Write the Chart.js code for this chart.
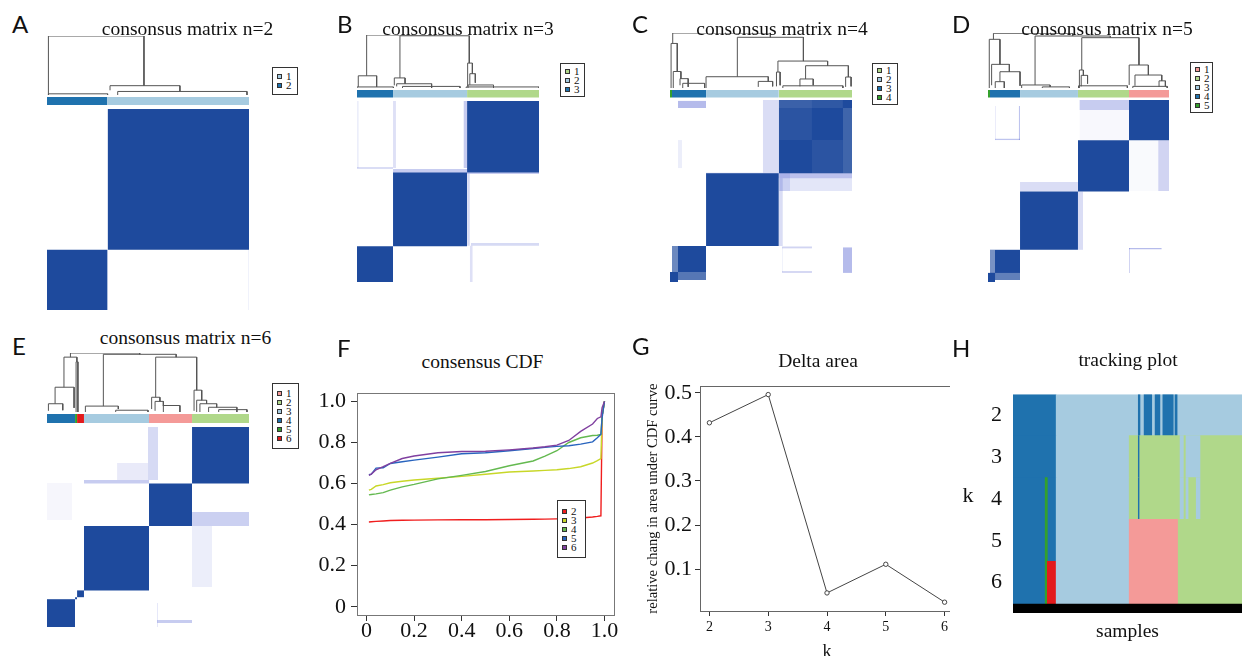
<!DOCTYPE html>
<html><head><meta charset="utf-8">
<script src="https://cdn.jsdelivr.net/npm/chart.js@4/dist/chart.umd.min.js"></script>
<style>
html,body{margin:0;padding:0;background:#fff;}
body{width:1242px;height:656px;position:relative;overflow:hidden;}
canvas{position:absolute;}
.t{position:absolute;white-space:nowrap;color:#111;}
.lg{position:absolute;border:1px solid #333;box-sizing:border-box;background:#fff;}
.lg i{position:absolute;width:5px;height:5px;border:1px solid #333;box-sizing:border-box;}
.lg b{position:absolute;font-weight:normal;font-size:11px;line-height:11px;color:#111;}
</style></head><body>
<script>
// ================= DATA =================
// cluster colours (keys used below)
const palette = {lb:'#a6cbe0', db:'#1f72ae', lg:'#b0d88a', g:'#33a02c', pk:'#f49a98', rd:'#e31a1c'};

// --- A: consensus matrix n=2
const aOrder = [2, 1];
const aSizes = [0.30, 0.70];
const aLegend = ['lb', 'db'];
const aExtra = [[0.995, 1.0, 0, 0.3, 0.08, 'f']];
const aLinks = [[0.007,0,0.48,0.158,1.0],[0.312,0.08,0.658,0.06,0.158],[0.35,0,0.99,0,0.06],[0.007,0,0.30,0,0.02]];

// --- B: consensus matrix n=3
const bOrder = [3, 2, 1];
const bSizes = [0.198, 0.407, 0.395];
const bLegend = ['lg', 'lb', 'db'];
const bExtra = [[0,0.01,0.63,1.0,0.1,'f'],[0.198,0.214,0.63,1.0,0.18,'f'],[0,0.198,0.625,0.635,0.2,'f'],
  [0.198,1.0,0.597,0.625,0.3,'f'],[0.626,1.0,0.2,0.215,0.22,'f'],[0.62,0.636,0,0.2,0.18,'f'],
  [0.585,0.605,0.63,1.0,0.3,'f'],[0.605,0.62,0.2,0.6,0.22,'f']];
const bLinks = [[0.236,0.19,0.617,0.47,0.985],[0.053,0.23,0.4265,0.985,1.0],[0.007,0.02,0.108,0.02,0.23],
  [0.0,0,0.2,0,0.02],[0.205,0.05,0.264,0.08,0.19],[0.218,0.03,0.41,0,0.08],[0.25,0,0.566,0,0.03],
  [0.608,0.03,0.634,0.27,0.47],[0.62,0.06,0.65,0.1,0.27],[0.61,0,0.75,0,0.057],[0.60,0,1.0,0,0.02]];

// --- C: consensus matrix n=4
const cOrder = [4, 3, 2, 1];
const cSizes = [0.011, 0.187, 0.40, 0.402];
const cLegend = ['lg', 'lb', 'db', 'g'];
const cExtra = [[0.044,0.198,0.956,0.995,0.4,'f'],[0.044,0.066,0.626,0.78,0.1,'f'],[0.51,0.60,0.60,1.0,0.2,'f'],
  [0.198,1.0,0.57,0.60,0.25,'f'],[0.6,1.0,0.5,0.6,0.15,'f'],[0.6,0.66,0.5,0.6,0.15,'f'],[0.95,1.0,0.05,0.19,0.4,'f'],
  [0.615,0.78,0.185,0.195,0.25,'f'],[0.615,0.78,0.05,0.06,0.25,'f'],[0.615,0.62,0.055,0.19,0.1,'f'],[0.598,0.62,0.198,0.57,0.2,'f'],
  [0.011,0.044,0.055,0.198,0.35,'w'],[0.044,0.198,0.011,0.055,0.25,'w'],[0,0.044,0,0.055,1,'d'],
  [0.598,0.78,0.78,1.0,0.06,'w'],[0.78,0.95,0.598,0.78,0.06,'w'],[0.95,1.0,0.598,0.956,0.15,'w'],[0.598,0.95,0.956,1.0,0.08,'w']];
const cLinks = [[0.37,0.205,0.733,0.49,0.922],[0.015,0.81,0.5515,0.922,1.0],[0.006,0,0.04,0.30,0.81],[0.018,0,0.06,0.17,0.30],
  [0.055,0.05,0.10,0.02,0.17],[0.07,0,0.19,0,0.085],[0.198,0,0.54,0.12,0.205],[0.485,0.02,0.564,0.03,0.12],
  [0.593,0.29,0.866,0.405,0.49],[0.585,0.03,0.605,0.05,0.29],[0.745,0.164,0.98,0.2,0.405],[0.714,0.03,0.787,0.05,0.164],
  [0.965,0.02,0.995,0.03,0.2],[0.62,0,0.95,0,0.04]];

// --- D: consensus matrix n=5
const dOrder = [5, 4, 3, 2, 1];
const dSizes = [0.011, 0.166, 0.32, 0.282, 0.221];
const dLegend = ['pk', 'lg', 'lb', 'db', 'g'];
const dExtra = [[0.505,0.779,0.945,1.0,0.3,'f'],[0.505,0.779,0.78,0.945,0.04,'f'],[0.94,1.0,0.5,0.779,0.25,'f'],
  [0.779,0.94,0.5,0.779,0.03,'f'],[0.177,0.497,0.497,0.55,0.2,'f'],[0.497,0.525,0.177,0.497,0.2,'f'],
  [0.17,0.177,0.78,0.967,0.35,'f'],[0.039,0.177,0.78,0.787,0.35,'f'],[0.039,0.045,0.78,0.967,0.12,'f'],
  [0.779,0.96,0.18,0.187,0.4,'f'],[0.779,0.785,0.05,0.187,0.25,'f'],
  [0.011,0.039,0.05,0.177,0.4,'w'],[0.039,0.177,0.011,0.05,0.3,'w'],[0,0.039,0,0.05,1,'d']];
const dLinks = [[0.518,0.327,0.834,0.418,0.915],[0.26,0.055,0.676,0.915,0.945],[0.03,0.885,0.468,0.945,0.995],
  [0.007,0,0.066,0.43,0.885],[0.02,0.05,0.118,0.296,0.43],[0.066,0.115,0.177,0.04,0.296],[0.04,0,0.09,0,0.115],
  [0.186,0,0.343,0.02,0.055],[0.30,0,0.45,0,0.02],[0.505,0,0.527,0.23,0.327],[0.515,0.03,0.55,0.08,0.23],
  [0.50,0,0.77,0,0.04],[0.78,0.055,0.886,0.236,0.418],[0.812,0.04,0.96,0.13,0.236],[0.945,0.02,0.98,0.03,0.13],[0.80,0,0.99,0,0.03]];

// --- E: consensus matrix n=6
const eOrder = [4, 5, 6, 3, 1, 2];
const eSizes = [0.139, 0.01, 0.034, 0.322, 0.213, 0.282];
const eLegend = ['pk', 'lg', 'lb', 'db', 'g', 'rd'];
const eExtra = [[0.50,0.55,0.735,1.0,0.22,'f'],[0.347,0.5,0.735,0.82,0.12,'f'],[0.183,0.505,0.718,0.735,0.3,'f'],
  [0.718,1.0,0.505,0.575,0.28,'f'],[0.718,0.817,0.2,0.505,0.1,'f'],[0,0.124,0.535,0.72,0.05,'f'],
  [0.545,0.718,0.02,0.035,0.3,'f'],[0.545,0.55,0,0.12,0.15,'f']];
const eLinks = [[0.538,0.25,0.741,0.37,0.93],[0.279,0.10,0.6395,0.93,0.978],[0.116,0.93,0.459,0.978,1.0],
  [0.084,0.42,0.148,0.85,0.93],[0.04,0.14,0.134,0.07,0.42],[0.007,0.02,0.078,0.03,0.14],[0.144,0,0.153,0,0.85],
  [0.19,0,0.353,0.05,0.10],[0.34,0,0.50,0,0.03],[0.518,0.05,0.559,0.18,0.25],[0.535,0.02,0.576,0.10,0.18],
  [0.576,0,0.658,0,0.11],[0.728,0.02,0.766,0.20,0.37],[0.741,0,0.79,0.14,0.20],[0.757,0,0.84,0.08,0.14],
  [0.80,0,0.94,0,0.08],[0.85,0,0.99,0,0.04]];

// --- F: consensus CDF
const cdfX  = [0.01,0.02,0.04,0.07,0.1,0.15,0.2,0.3,0.4,0.5,0.6,0.7,0.75,0.8,0.85,0.9,0.95,0.97,0.985,0.99,1.0];
const cdfK2 = [0.413,0.414,0.416,0.418,0.42,0.421,0.422,0.423,0.424,0.424,0.425,0.426,0.427,0.428,0.429,0.432,0.437,0.44,0.443,0.93,1.0];
const cdfK3 = [0.568,0.572,0.588,0.595,0.604,0.611,0.617,0.626,0.635,0.645,0.656,0.661,0.664,0.667,0.673,0.682,0.70,0.712,0.722,0.93,1.0];
const cdfK4 = [0.545,0.547,0.550,0.556,0.568,0.584,0.596,0.623,0.64,0.659,0.687,0.71,0.734,0.76,0.80,0.823,0.834,0.835,0.839,0.93,1.0];
const cdfK5 = [0.643,0.646,0.675,0.677,0.698,0.706,0.714,0.729,0.745,0.75,0.76,0.771,0.776,0.781,0.784,0.792,0.803,0.823,0.84,0.92,1.0];
const cdfK6 = [0.64,0.646,0.667,0.682,0.698,0.722,0.734,0.75,0.756,0.757,0.764,0.773,0.779,0.787,0.81,0.854,0.89,0.917,0.925,0.97,1.0];
const cdfLabels = ['2','3','4','5','6'];
const fTicks = [0,0.2,0.4,0.6,0.8,1.0];
const fTickLabels = ['0','0.2','0.4','0.6','0.8','1.0'];

// --- G: Delta area
const deltaK = [2,3,4,5,6];
const deltaArea = [0.432,0.496,0.046,0.111,0.025];
const gYTicks = [0.1,0.2,0.3,0.4,0.5];

// --- H: tracking plot (segments per k: [start, end, colour])
const trackK = [2,3,4,5,6];
const trackK2 = [[0,0.188,'db'],[0.188,1,'lb'],[0.547,0.555,'db'],[0.572,0.606,'db'],[0.62,0.642,'db'],[0.654,0.70,'db'],[0.707,0.717,'db']];
const trackK3 = [[0,0.188,'db'],[0.188,0.507,'lb'],[0.507,1,'lg'],[0.547,0.551,'db'],[0.729,0.744,'lb'],[0.755,0.817,'lb']];
const trackK4 = [[0,0.188,'db'],[0.140,0.150,'g'],[0.188,0.507,'lb'],[0.507,1,'lg'],[0.547,0.551,'db'],[0.729,0.744,'lb'],[0.755,0.765,'lb'],[0.80,0.817,'lb']];
const trackK5 = [[0,0.188,'db'],[0.140,0.150,'g'],[0.188,0.507,'lb'],[0.507,0.721,'pk'],[0.721,1,'lg']];
const trackK6 = [[0,0.140,'db'],[0.140,0.150,'g'],[0.150,0.188,'rd'],[0.188,0.507,'lb'],[0.507,0.721,'pk'],[0.721,1,'lg']];
const trackRows = [trackK2, trackK3, trackK4, trackK5, trackK6];

// ================= STYLE / LAYOUT =================
const SERIF = "'Liberation Serif', 'Times New Roman', serif";
const SANS = "Lato, 'Open Sans', sans-serif";
const MAT_BLUE = '#1e4a9d';
const cdfColors = ['#f01e1e','#c8d728','#64b950','#2864be','#8040a0'];
Chart.defaults.font.family = SERIF;
Chart.defaults.color = '#111';

function mkCanvas(left, top, w, h) {
  const c = document.createElement('canvas');
  c.width = w; c.height = h;
  c.style.left = left + 'px'; c.style.top = top + 'px';
  c.style.width = w + 'px'; c.style.height = h + 'px';
  document.body.appendChild(c);
  return c;
}
function rectDS(x0, x1, y0, y1, color) {
  return {type:'line', data:[{x:x0, y:y1}, {x:x1, y:y1}], fill:{value:y0}, backgroundColor:color,
    borderColor:'rgba(0,0,0,0)', borderWidth:0, pointRadius:0, pointHoverRadius:0, tension:0};
}
const baseOpts = () => ({responsive:false, animation:false, devicePixelRatio:1, events:[],
  plugins:{legend:{display:false}, tooltip:{enabled:false}, title:{display:false}}});

function matrixChart(lay, d) {
  const pad = 3;
  const c = mkCanvas(lay.x0 - pad, lay.dTop - pad, lay.x1 - lay.x0 + 2*pad, lay.mBot - lay.dTop + 2*pad);
  const mH = lay.mBot - lay.mTop;
  const yv = py => (lay.mBot - py) / mH;
  const ds = [];
  const extraColor = e => e[5] === 'w' ? `rgba(255,255,255,${e[4]})` : e[5] === 'd' ? MAT_BLUE : `rgba(70,85,205,${e[4]})`;
  d.extra.filter(e => e[5] === 'f').forEach(e => ds.push(rectDS(e[0], e[1], e[2], e[3], extraColor(e))));
  let acc = 0;
  d.sizes.forEach((s, i) => {
    const a = acc, b = acc + s; acc = b;
    ds.push(rectDS(a, b, a, b, MAT_BLUE));
    ds.push(rectDS(a, b, yv(lay.cbBot), yv(lay.cbTop), palette[d.legend[d.order[i] - 1]]));
  });
  d.extra.filter(e => e[5] !== 'f').forEach(e => ds.push(rectDS(e[0], e[1], e[2], e[3], extraColor(e))));
  const yb = yv(lay.dBase), yt = yv(lay.dTop);
  const hy = h => yb + h * (yt - yb);
  const pts = [];
  d.links.forEach(([xl, hl, xr, hr, h]) => {
    pts.push({x:xl, y:hy(hl)}, {x:xl, y:hy(h)}, {x:xr, y:hy(h)}, {x:xr, y:hy(hr)}, {x:xr, y:null});
  });
  ds.push({type:'line', data:pts, borderColor:'#555', borderWidth:1, pointRadius:0, fill:false, spanGaps:false, tension:0});
  const o = baseOpts();
  o.layout = {padding:pad};
  o.scales = {x:{type:'linear', min:0, max:1, display:false}, y:{type:'linear', min:0, max:yt, display:false}};
  new Chart(c, {type:'line', data:{datasets:ds.reverse()}, options:o});
}

matrixChart({x0:47, x1:249, dTop:36, dBase:95, cbTop:97, cbBot:105, mTop:109, mBot:310},
  {order:aOrder, sizes:aSizes, legend:aLegend, extra:aExtra, links:aLinks});
matrixChart({x0:357, x1:539, dTop:35, dBase:88, cbTop:90, cbBot:97.5, mTop:101, mBot:282},
  {order:bOrder, sizes:bSizes, legend:bLegend, extra:bExtra, links:bLinks});
matrixChart({x0:670, x1:852, dTop:33, dBase:88, cbTop:90, cbBot:97.5, mTop:100, mBot:282},
  {order:cOrder, sizes:cSizes, legend:cLegend, extra:cExtra, links:cLinks});
matrixChart({x0:988, x1:1169, dTop:33, dBase:88, cbTop:90, cbBot:97.5, mTop:100, mBot:282},
  {order:dOrder, sizes:dSizes, legend:dLegend, extra:dExtra, links:dLinks});
matrixChart({x0:47, x1:249, dTop:353, dBase:412, cbTop:414, cbBot:423, mTop:427, mBot:627},
  {order:eOrder, sizes:eSizes, legend:eLegend, extra:eExtra, links:eLinks});

// ---- F: consensus CDF
(function(){
  const c = mkCanvas(310, 375, 310, 281);
  const series = [cdfK2, cdfK3, cdfK4, cdfK5, cdfK6];
  const ds = series.map((ys, i) => ({label:cdfLabels[i], data:cdfX.map((x, j) => ({x, y:ys[j]})),
    borderColor:cdfColors[i], borderWidth:1.4, pointRadius:0, fill:false, tension:0}));
  const o = baseOpts();
  o.layout = {padding:{top:8, right:6, bottom:0, left:0}};
  const frame = {display:true, color:'#777', width:1};
  o.scales = {
    x:{type:'linear', min:-0.04, max:1.04, afterBuildTicks:s => { s.ticks = fTicks.map(v => ({value:v})); },
      ticks:{callback:(v, i) => fTickLabels[i], font:{family:SERIF, size:22}, color:'#111', padding:-3, maxRotation:0, autoSkip:false},
      grid:{display:true, drawOnChartArea:false, tickLength:6, color:'#333'}, border:frame, afterFit:s => { s.height = 41; }},
    y:{type:'linear', min:-0.04, max:1.04, afterBuildTicks:s => { s.ticks = fTicks.map(v => ({value:v})); },
      ticks:{callback:(v, i) => fTickLabels[i], font:{family:SERIF, size:22}, color:'#111', padding:5, autoSkip:false},
      grid:{display:true, drawOnChartArea:false, tickLength:6, color:'#333'}, border:frame, afterFit:s => { s.width = 47; }},
    x2:{type:'linear', position:'top', min:-0.04, max:1.04, ticks:{display:false}, grid:{display:false, drawTicks:false}, border:frame, afterFit:s => { s.height = 0; }},
    y2:{type:'linear', position:'right', min:-0.04, max:1.04, ticks:{display:false}, grid:{display:false, drawTicks:false}, border:frame, afterFit:s => { s.width = 0; }}
  };
  new Chart(c, {type:'line', data:{datasets:ds.reverse()}, options:o});
})();

// ---- G: Delta area
(function(){
  const c = mkCanvas(630, 370, 330, 300);
  const o = baseOpts();
  o.layout = {padding:{top:15, right:6, bottom:0, left:0}};
  const frame = {display:true, color:'#666', width:1};
  o.scales = {
    x:{type:'linear', min:1.84, max:6.16, afterBuildTicks:s => { s.ticks = deltaK.map(v => ({value:v})); },
      ticks:{callback:v => String(v), font:{family:SERIF, size:14}, color:'#111', padding:3, maxRotation:0, autoSkip:false},
      grid:{display:true, drawOnChartArea:false, tickLength:5, color:'#333'}, border:frame,
      title:{display:true, text:'k', font:{family:SERIF, size:18}, color:'#111', padding:{top:0, bottom:7}},
      afterFit:s => { s.height = 59; }},
    y:{type:'linear', min:0.005, max:0.515, afterBuildTicks:s => { s.ticks = gYTicks.map(v => ({value:v})); },
      ticks:{callback:v => v.toFixed(1), font:{family:SERIF, size:22}, color:'#111', padding:3, autoSkip:false},
      grid:{display:true, drawOnChartArea:false, tickLength:5, color:'#333'}, border:frame,
      title:{display:true, text:'relative chang in area under CDF curve', font:{family:SERIF, size:14.6}, color:'#111', padding:{top:14, bottom:0}},
      afterFit:s => { s.width = 70; }},
    x2:{type:'linear', position:'top', min:1.84, max:6.16, ticks:{display:false}, grid:{display:false, drawTicks:false}, border:frame, afterFit:s => { s.height = 0; }},
    y2:{type:'linear', position:'right', min:0.005, max:0.515, ticks:{display:false}, grid:{display:false, drawTicks:false}, border:frame, afterFit:s => { s.width = 0; }}
  };
  new Chart(c, {type:'line', data:{datasets:[{data:deltaK.map((k, i) => ({x:k, y:deltaArea[i]})),
    borderColor:'#444', borderWidth:1, pointRadius:2.2, pointBorderColor:'#444', pointBackgroundColor:'#fff',
    pointBorderWidth:1, fill:false, tension:0}]}, options:o});
})();

// ---- H: tracking plot
(function(){
  const c = mkCanvas(950, 370, 292, 300);
  c.style.background = '#fff';
  const ds = [];
  const ov = 0.02, ox = 0.002;   // tiny overlap to hide anti-aliasing seams
  trackRows.forEach((segs, r) => {
    const k = trackK[r];
    segs.forEach(([a, b, col]) => ds.push(rectDS(Math.max(0, a - ox), Math.min(1, b + ox), k - 0.5 - ov, k + 0.5 + ov, palette[col])));
  });
  const barDepth = 0.223;
  ds.push(rectDS(0, 1, 6.5, 6.5 + barDepth, '#000'));
  const o = baseOpts();
  o.layout = {padding:{top:9, right:0, bottom:0, left:0}};
  o.scales = {
    x:{type:'linear', min:0, max:1, ticks:{display:false}, grid:{display:false, drawTicks:false}, border:{display:false},
      title:{display:true, text:'samples', font:{family:SERIF, size:19.5}, color:'#111', padding:{top:0, bottom:26}},
      afterFit:s => { s.height = 57; }},
    y:{type:'linear', reverse:true, min:1.5, max:6.5 + barDepth,
      afterBuildTicks:s => { s.ticks = trackK.map(v => ({value:v})); },
      ticks:{callback:v => String(v), font:{family:SERIF, size:22}, color:'#111', padding:11, autoSkip:false},
      grid:{display:false, drawTicks:false}, border:{display:false}, afterFit:s => { s.width = 63; }}
  };
  new Chart(c, {type:'line', data:{datasets:ds.reverse()}, options:o});
})();

// ================= TEXT =================
function txt(s, x, baseline, size, family, align) {
  const d = document.createElement('div');
  d.className = 't'; d.textContent = s;
  const k = family === SANS ? 0.887 : 0.8375;
  d.style.left = x + 'px';
  d.style.top = (baseline - k * size) + 'px';
  d.style.fontSize = size + 'px';
  d.style.lineHeight = size + 'px';
  d.style.fontFamily = family;
  if (align === 'center') d.style.transform = 'translateX(-50%)';
  document.body.appendChild(d);
}
function legendBox(l, t, r, b, items) {
  const box = document.createElement('div');
  box.className = 'lg';
  box.style.left = l + 'px'; box.style.top = t + 'px';
  box.style.width = (r - l) + 'px'; box.style.height = (b - t) + 'px';
  const n = items.length, step = 9;
  const start = ((b - t) - (n - 1) * step) / 2 - 1;
  items.forEach(([col, lab], i) => {
    const cy = start + i * step;
    const sq = document.createElement('i');
    sq.style.left = '4px'; sq.style.top = (cy - 2.5) + 'px'; sq.style.background = col;
    const tx = document.createElement('b');
    tx.textContent = lab; tx.style.left = '13px'; tx.style.top = (cy - 5.5) + 'px'; tx.style.fontFamily = SERIF;
    box.appendChild(sq); box.appendChild(tx);
  });
  document.body.appendChild(box);
}
const legItems = keys => keys.map((k, i) => [palette[k], String(i + 1)]);
legendBox(272, 67, 298, 95, legItems(aLegend));
legendBox(560, 63, 585, 97, legItems(bLegend));
legendBox(872, 63, 898, 105, legItems(cLegend));
legendBox(1190, 62, 1213, 113, legItems(dLegend));
legendBox(272, 383, 299, 449, legItems(eLegend));
legendBox(557, 500, 586, 558, cdfColors.map((c, i) => [c, cdfLabels[i]]));

txt('consonsus matrix n=2', 187.5, 35.5, 19.5, SERIF, 'center');
txt('consonsus matrix n=3', 468, 35, 19.5, SERIF, 'center');
txt('consonsus matrix n=4', 782, 35, 19.5, SERIF, 'center');
txt('consonsus matrix n=5', 1107, 35, 19.5, SERIF, 'center');
txt('consonsus matrix n=6', 185.5, 344, 19.5, SERIF, 'center');
txt('consensus CDF', 482.5, 368, 19.5, SERIF, 'center');
txt('Delta area', 818, 367, 19.5, SERIF, 'center');
txt('tracking plot', 1128, 366, 19.5, SERIF, 'center');
txt('k', 968, 502, 22, SERIF, 'center');

txt('A', 12, 33, 24, SANS);
txt('B', 337, 33, 24, SANS);
txt('C', 632, 33, 24, SANS);
txt('D', 952, 33, 24, SANS);
txt('E', 12, 355, 24, SANS);
txt('F', 337, 357, 24, SANS);
txt('G', 632, 355, 24, SANS);
txt('H', 952, 357, 24, SANS);
</script>
</body></html>
